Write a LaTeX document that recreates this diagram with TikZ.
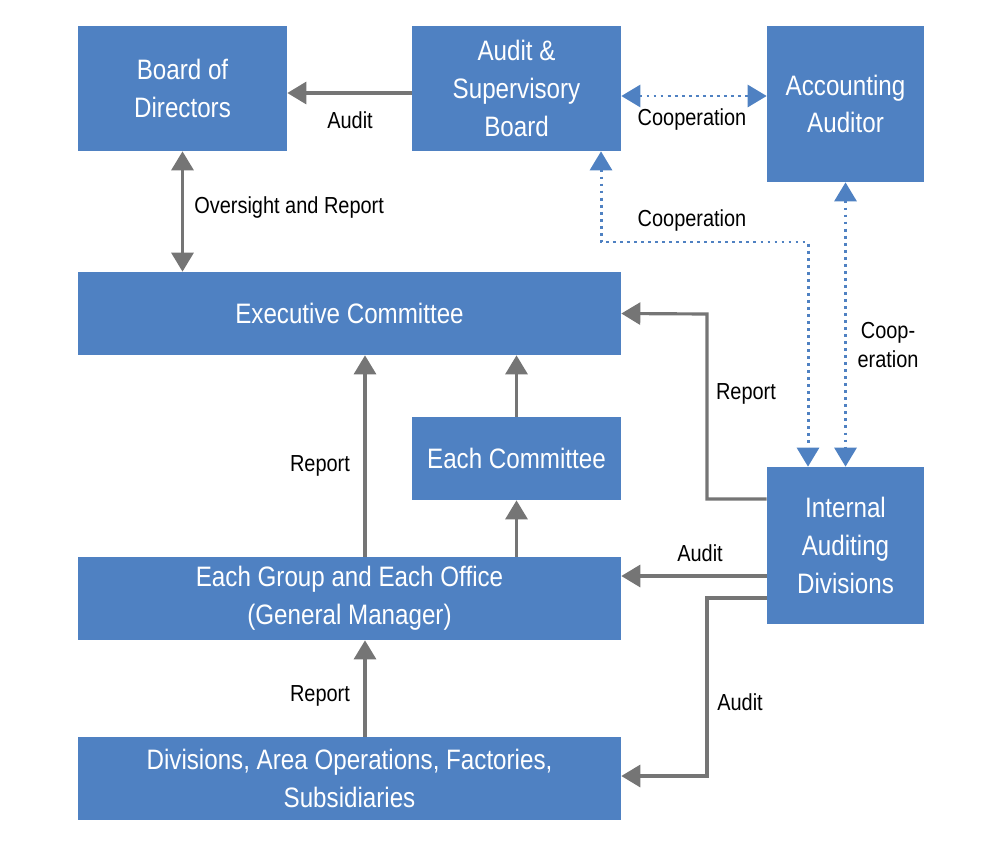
\documentclass[tikz,border=0pt]{standalone}
\usepackage{fontspec}
\setmainfont[FakeStretch=0.86]{Liberation Sans}
\usetikzlibrary{arrows.meta}
\definecolor{boxblue}{HTML}{4F81C2}
\definecolor{arrgray}{HTML}{757575}
\tikzset{
  box/.style={fill=boxblue, text=white, inner sep=0pt, align=center, font=\fontsize{16}{21.5}\selectfont},
  lbl/.style={inner sep=0pt, align=center, font=\fontsize{13.2}{16}\selectfont},
  arr/.style={draw=arrgray, line width=1.8pt, -{Triangle[length=0.38cm, width=0.44cm]}},
  darr/.style={arr, {Triangle[length=0.38cm, width=0.44cm]}-{Triangle[length=0.38cm, width=0.44cm]}},
  coop/.style={draw=boxblue, line width=1.7pt, dash pattern=on 1.6pt off 2.4pt,
    {Triangle[length=0.38cm, width=0.44cm]}-{Triangle[length=0.38cm, width=0.44cm]}}
}
\begin{document}
\begin{tikzpicture}[x=0.02cm, y=-0.02cm]
\useasboundingbox (0,0) rectangle (1000,842);

\node[box, minimum width=4.18cm, minimum height=2.5cm] (bod) at (182.5,88.5) {Board of\\Directors};
\node[box, minimum width=4.18cm, minimum height=2.5cm] (asb) at (516.5,88.5) {Audit \&\\Supervisory\\Board};
\node[box, minimum width=3.14cm, minimum height=3.12cm] (aa) at (845.5,104) {Accounting\\Auditor};
\node[box, minimum width=10.86cm, minimum height=1.66cm] (exec) at (349.5,313.5) {Executive Committee};
\node[box, minimum width=4.18cm, minimum height=1.66cm] (ec) at (516.5,458.5) {Each Committee};
\node[box, minimum width=3.14cm, minimum height=3.14cm] (iad) at (845.5,545.5) {Internal\\Auditing\\Divisions};
\node[box, minimum width=10.86cm, minimum height=1.66cm] (grp) at (349.5,598.5) {Each Group and Each Office\\(General Manager)};
\node[box, minimum width=10.86cm, minimum height=1.66cm] (div) at (349.5,778.5) {Divisions, Area Operations, Factories,\\Subsidiaries};

\draw[arr] (asb.west |- 0,93) -- (bod.east |- 0,93);
\draw[darr] (bod.south) -- (exec.north -| bod.south);
\draw[coop] (asb.east |- 0,96) -- (aa.west |- 0,96);
\draw[coop] (asb.south -| 601,0) -- (601,242) -- (808,242) -- (iad.north -| 808,0);
\draw[coop] (aa.south) -- (iad.north);
\draw[arr] (iad.west |- 0,499) -- (707,499) -- (707,314) -- (exec.east);
\draw[arr] (ec.north) -- (exec.south -| ec.north);
\draw[arr] (grp.north -| ec.south) -- (ec.south);
\draw[arr] (grp.north -| 365,0) -- (exec.south -| 365,0);
\draw[arr] (div.north -| 365,0) -- (grp.south -| 365,0);
\draw[arr] (iad.west |- 0,576) -- (grp.east |- 0,576);
\draw[arr] (iad.west |- 0,598) -- (707,598) -- (707,776) -- (div.east |- 0,776);

\node[lbl] (l1) at (350,120) {Audit};
\node[lbl, anchor=west] (l2) at (194,207) {Oversight and Report};
\node[lbl] (l3) at (692,120) {Cooperation};
\node[lbl] (l4) at (692,220) {Cooperation};
\node[lbl] (l5) at (888,345) {Coop-\\eration};
\node[lbl] (l6) at (746,394) {Report};
\node[lbl] (l7) at (320,466) {Report};
\node[lbl] (l8) at (700,553) {Audit};
\node[lbl] (l9) at (320,696) {Report};
\node[lbl] (l10) at (740,702) {Audit};
\end{tikzpicture}
\end{document}
